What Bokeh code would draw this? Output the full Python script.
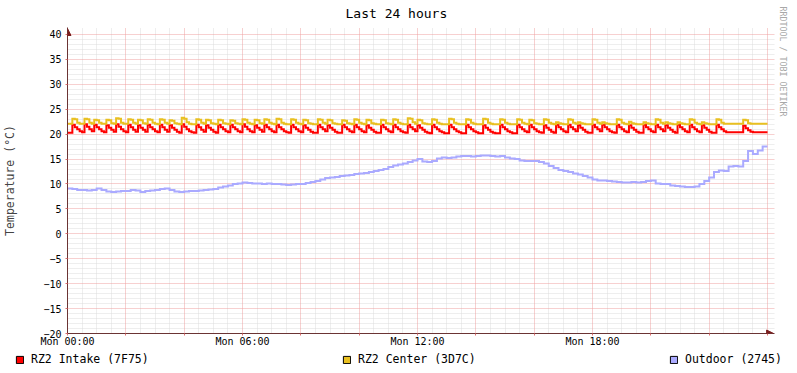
from bokeh.plotting import figure
from bokeh.models import (ColumnDataSource, Grid, FixedTicker, Legend, LegendItem,
                          Arrow, NormalHead, Title)
from bokeh.embed import file_html
from bokeh.resources import INLINE

# ---------------- data ----------------
TITLE = "Last 24 hours"
Y_LABEL = "Temperature (°C)"
WATERMARK = "RRDTOOL / TOBI OETIKER"
SERIES_NAMES = ["RZ2 Intake (7F75)", "RZ2 Center (3D7C)", "Outdoor (2745)"]
SERIES_COLORS = ["#FF0000", "#E9C020", "#AAAAFF"]
X_TICKS = [0, 6, 12, 18]
X_TICK_LABELS = ["Mon 00:00", "Mon 06:00", "Mon 12:00", "Mon 18:00"]
Y_TICKS = [-20, -15, -10, -5, 0, 5, 10, 15, 20, 25, 30, 35, 40]
HOURS_SPAN = 24

FAST_STEP_MIN = 5    # sample interval of the two RZ2 sensors (minutes)
SLOW_STEP_MIN = 10   # sample interval of the outdoor sensor (minutes)

intake = [
    20.3, 20.3, 21.9, 21.4, 21.0, 20.6, 20.4, 22.0, 21.5, 21.0, 20.6, 21.9,
    21.4, 21.0, 20.6, 20.4, 21.8, 21.3, 20.9, 20.5, 22.0, 21.5, 21.0, 20.6,
    20.4, 21.9, 21.4, 20.9, 20.5, 21.8, 21.3, 20.9, 20.5, 21.9, 21.4, 21.0,
    20.6, 20.4, 21.9, 21.4, 20.9, 20.5, 21.8, 21.3, 20.9, 20.5, 20.3, 22.0,
    21.5, 21.0, 20.6, 20.4, 20.3, 21.9, 21.4, 20.9, 20.5, 21.8, 21.3, 20.9,
    20.5, 20.3, 21.9, 21.4, 21.0, 20.6, 20.4, 21.9, 21.4, 21.0, 20.6, 20.4,
    22.0, 21.5, 21.0, 20.6, 20.4, 21.8, 21.3, 20.9, 20.5, 21.9, 21.4, 21.0,
    20.6, 20.4, 21.9, 21.4, 21.0, 20.6, 20.4, 20.3, 21.9, 21.4, 21.0, 20.6,
    20.4, 21.8, 21.3, 20.9, 20.5, 20.3, 20.3, 21.9, 21.4, 21.0, 20.6, 21.8,
    21.3, 20.9, 20.5, 20.3, 20.3, 21.9, 21.4, 21.0, 20.6, 20.4, 21.9, 21.4,
    21.0, 20.6, 20.4, 21.8, 21.3, 20.9, 20.5, 20.3, 20.3, 21.9, 21.4, 21.0,
    20.6, 20.4, 21.9, 21.4, 21.0, 20.6, 20.4, 20.3, 21.9, 21.4, 21.0, 20.6,
    21.8, 21.3, 20.9, 20.5, 20.3, 20.2, 21.9, 21.4, 21.0, 20.6, 20.4, 20.2,
    20.2, 21.9, 21.4, 21.0, 20.6, 20.4, 20.2, 20.2, 21.9, 21.4, 21.0, 20.6,
    20.4, 20.2, 20.2, 21.8, 21.3, 20.9, 20.5, 20.3, 20.2, 20.2, 21.9, 21.4,
    21.0, 20.6, 20.4, 20.2, 20.2, 21.9, 21.4, 21.0, 20.6, 20.4, 21.9, 21.4,
    21.0, 20.6, 20.4, 20.3, 21.8, 21.3, 20.9, 20.5, 20.3, 21.9, 21.4, 21.0,
    20.6, 20.4, 21.9, 21.4, 21.0, 20.6, 21.8, 21.3, 20.9, 20.5, 20.3, 20.3,
    21.9, 21.4, 21.0, 20.6, 21.9, 21.4, 21.0, 20.6, 20.4, 20.3, 21.9, 21.4,
    21.0, 20.6, 20.4, 21.8, 21.3, 20.9, 20.5, 20.3, 20.3, 21.9, 21.4, 21.0,
    20.6, 20.4, 21.9, 21.4, 21.0, 20.6, 21.8, 21.3, 20.9, 20.5, 20.3, 21.9,
    21.4, 21.0, 20.6, 20.4, 21.9, 21.4, 21.0, 20.6, 20.4, 21.8, 21.3, 20.9,
    20.5, 20.3, 20.3, 21.9, 21.4, 21.0, 20.6, 20.4, 20.4, 20.4, 20.4, 20.4,
    20.4, 20.4, 21.7, 21.2, 20.8, 20.5, 20.4, 20.4, 20.4, 20.4, 20.4, 20.4,
]

center = [
    22.1, 22.1, 23.1, 23.0, 22.3, 22.1, 22.1, 23.1, 23.0, 22.3, 22.1, 22.9,
    22.8, 22.3, 22.1, 22.1, 22.9, 22.8, 22.2, 22.1, 23.2, 23.1, 22.3, 22.1,
    22.1, 23.0, 22.9, 22.3, 22.1, 22.9, 22.8, 22.2, 22.1, 23.0, 22.9, 22.3,
    22.1, 22.0, 23.0, 22.9, 22.3, 22.1, 22.8, 22.7, 22.2, 22.1, 22.0, 23.3,
    23.1, 22.4, 22.1, 22.0, 22.0, 23.0, 22.9, 22.3, 22.1, 22.9, 22.8, 22.2,
    22.1, 22.0, 22.9, 22.8, 22.2, 22.1, 22.0, 22.8, 22.7, 22.2, 22.1, 22.0,
    23.0, 22.9, 22.3, 22.1, 22.0, 22.9, 22.8, 22.2, 22.1, 23.0, 22.9, 22.3,
    22.1, 22.0, 23.1, 23.0, 22.3, 22.1, 22.0, 22.0, 23.0, 22.9, 22.3, 22.1,
    22.0, 22.9, 22.8, 22.2, 22.1, 22.0, 22.0, 23.0, 22.9, 22.3, 22.1, 22.9,
    22.8, 22.2, 22.1, 22.0, 22.0, 22.8, 22.7, 22.2, 22.1, 22.0, 23.0, 22.9,
    22.3, 22.1, 22.0, 22.9, 22.8, 22.2, 22.1, 22.0, 22.0, 22.9, 22.8, 22.2,
    22.1, 22.0, 23.0, 22.9, 22.3, 22.1, 22.0, 22.0, 23.2, 23.1, 22.4, 22.1,
    22.9, 22.8, 22.2, 22.1, 22.0, 22.0, 23.0, 22.9, 22.3, 22.1, 22.0, 22.0,
    22.0, 23.1, 23.0, 22.3, 22.1, 22.0, 22.0, 22.0, 23.0, 22.9, 22.3, 22.1,
    22.0, 22.0, 22.0, 23.1, 23.0, 22.3, 22.1, 22.0, 22.0, 22.0, 23.0, 22.9,
    22.3, 22.1, 22.0, 22.0, 22.0, 23.0, 22.9, 22.3, 22.1, 22.0, 22.9, 22.8,
    22.2, 22.1, 22.0, 22.0, 23.0, 22.9, 22.3, 22.1, 22.0, 22.4, 22.2, 22.1,
    22.0, 22.0, 23.0, 22.9, 22.3, 22.1, 22.4, 22.2, 22.1, 22.0, 22.0, 22.0,
    23.0, 22.9, 22.3, 22.1, 22.4, 22.2, 22.1, 22.0, 22.0, 22.0, 23.0, 22.9,
    22.3, 22.1, 22.0, 22.5, 22.2, 22.1, 22.0, 22.0, 22.0, 22.4, 22.2, 22.1,
    22.0, 22.0, 23.0, 22.9, 22.3, 22.1, 22.4, 22.2, 22.1, 22.0, 22.0, 22.4,
    22.2, 22.1, 22.0, 22.0, 23.0, 22.9, 22.3, 22.1, 22.0, 22.4, 22.2, 22.1,
    22.0, 22.0, 22.0, 23.0, 22.9, 22.3, 22.1, 22.1, 22.1, 22.1, 22.1, 22.1,
    22.1, 22.1, 22.9, 22.8, 22.2, 22.1, 22.1, 22.1, 22.1, 22.1, 22.1, 22.1,
]

outdoor = [
    9.1, 9.0, 8.8, 8.8, 8.7, 8.8, 9.1, 8.8, 8.5, 8.4, 8.5, 8.6,
    8.6, 8.8, 8.7, 8.4, 8.6, 8.7, 8.8, 9.0, 9.1, 8.8, 8.5, 8.4,
    8.5, 8.6, 8.6, 8.7, 8.8, 8.9, 9.0, 9.3, 9.5, 9.7, 10.0, 10.1,
    10.3, 10.2, 10.1, 10.1, 10.0, 10.1, 10.0, 10.0, 9.9, 9.8, 9.9, 10.0,
    10.0, 10.2, 10.4, 10.6, 10.9, 11.2, 11.3, 11.4, 11.6, 11.7, 11.8, 12.0,
    12.1, 12.2, 12.4, 12.6, 12.8, 13.0, 13.4, 13.7, 13.9, 14.1, 14.4, 14.7,
    15.0, 14.5, 14.4, 14.6, 15.1, 15.3, 15.2, 15.3, 15.5, 15.6, 15.6, 15.5,
    15.6, 15.7, 15.7, 15.6, 15.5, 15.6, 15.3, 15.1, 15.0, 14.7, 14.6, 14.6,
    14.6, 14.4, 14.1, 13.6, 13.2, 12.8, 12.6, 12.4, 12.1, 11.9, 11.6, 11.3,
    10.9, 10.7, 10.7, 10.6, 10.5, 10.4, 10.3, 10.3, 10.4, 10.3, 10.4, 10.6,
    10.7, 10.1, 10.0, 10.0, 9.7, 9.6, 9.5, 9.4, 9.4, 9.5, 10.0, 10.6,
    11.3, 12.4, 12.7, 12.6, 13.5, 13.6, 13.5, 14.6, 16.6, 16.0, 16.7, 17.5,
]

# ---------------- figure ----------------
FONT = "DejaVu Sans Mono"
AXIS_COLOR = "#6B3434"
ARROW_COLOR = "#7A1E1E"
MINOR_GRID = "#DCDCDC"
MAJOR_GRID = "#EFA0A0"
TICK_RED = "#E07070"
WIDTH = 797
MAIN_H = 350
LEGEND_H = 23

# small headroom beyond the last grid line for the axis arrows
X_ARROW = HOURS_SPAN + 0.24
Y_ARROW = Y_TICKS[-1] + 1.4

p = figure(width=WIDTH, height=MAIN_H, output_backend="svg", toolbar_location=None,
           x_range=(0, X_ARROW), y_range=(Y_TICKS[0], Y_ARROW),
           min_border_left=67, min_border_right=23, min_border_top=26,
           min_border_bottom=17)
p.outline_line_color = None
p.background_fill_color = "white"
p.border_fill_color = "white"
p.xgrid.visible = False
p.ygrid.visible = False


def step_source(values, step_min):
    n = len(values)
    t = [i * step_min / 60.0 for i in range(n)] + [n * step_min / 60.0]
    return ColumnDataSource(data=dict(t=t, v=list(values) + [values[-1]]))


# grids: minor (30 min / 1 degree) and major (2 h / 5 degrees), dotted
x_minor = [i * 0.5 for i in range(1, 2 * HOURS_SPAN + 1) if i % 4 != 0]
x_major = list(range(0, HOURS_SPAN + 1, 2))
y_minor = [v for v in range(Y_TICKS[0], Y_TICKS[-1] + 1) if v % 5 != 0]
p.add_layout(Grid(dimension=0, ticker=FixedTicker(ticks=x_minor),
                  grid_line_color=MINOR_GRID, grid_line_dash="1 1"))
p.add_layout(Grid(dimension=1, ticker=FixedTicker(ticks=y_minor),
                  grid_line_color=MINOR_GRID, grid_line_dash="1 1"))
p.add_layout(Grid(dimension=0, ticker=FixedTicker(ticks=x_major[1:]),
                  grid_line_color=MAJOR_GRID, grid_line_dash="1 1"))
p.add_layout(Grid(dimension=1, ticker=FixedTicker(ticks=Y_TICKS[1:]),
                  grid_line_color=MAJOR_GRID, grid_line_dash="1 1"))

# series
for vals, step_min, color in [(intake, FAST_STEP_MIN, SERIES_COLORS[0]),
                              (center, FAST_STEP_MIN, SERIES_COLORS[1]),
                              (outdoor, SLOW_STEP_MIN, SERIES_COLORS[2])]:
    p.step(x="t", y="v", source=step_source(vals, step_min), mode="after",
           line_color=color, line_width=2, line_join="miter")

# axes
overrides = {t: "" for t in x_major}
for t, lab in zip(X_TICKS, X_TICK_LABELS):
    overrides[t] = lab
xa = p.xaxis[0]
xa.ticker = FixedTicker(ticks=x_major)
xa.major_label_overrides = overrides
xa.major_label_text_font = FONT
xa.major_label_text_font_size = "10px"
xa.major_label_text_color = "black"
xa.major_label_standoff = 0
xa.major_tick_in = 0
xa.major_tick_out = 2
xa.major_tick_line_color = TICK_RED
xa.minor_tick_line_color = None
xa.axis_line_color = AXIS_COLOR

ya = p.yaxis[0]
ya.ticker = FixedTicker(ticks=Y_TICKS)
ya.major_label_text_font = FONT
ya.major_label_text_font_size = "10px"
ya.major_label_text_color = "black"
ya.major_label_standoff = 4
ya.major_tick_in = 0
ya.major_tick_out = 2
ya.major_tick_line_color = TICK_RED
ya.minor_tick_line_color = None
ya.axis_line_color = AXIS_COLOR
ya.axis_label = Y_LABEL
ya.axis_label_text_font = FONT
ya.axis_label_text_font_size = "11.5px"
ya.axis_label_text_font_style = "normal"
ya.axis_label_standoff = 23

# arrow heads at the axis ends
p.add_layout(Arrow(end=NormalHead(size=7, fill_color=ARROW_COLOR, line_color=ARROW_COLOR),
                   x_start=0, y_start=Y_TICKS[-1], x_end=0, y_end=Y_ARROW - 0.2,
                   line_color=AXIS_COLOR, line_width=1))
p.add_layout(Arrow(end=NormalHead(size=7, fill_color=ARROW_COLOR, line_color=ARROW_COLOR),
                   x_start=HOURS_SPAN, y_start=Y_TICKS[0], x_end=X_ARROW - 0.03,
                   y_end=Y_TICKS[0], line_color=AXIS_COLOR, line_width=1))

# title (centred on the image, as rrdtool does) and vertical watermark
p.title.text = TITLE
p.title.align = "left"
p.title.offset = 278
p.title.text_font = FONT
p.title.text_font_size = "13px"
p.title.text_font_style = "normal"
p.title.text_color = "black"
p.title.vertical_align = "top"
p.title.standoff = 10

wm = Title(text=WATERMARK, align="left", offset=-21, text_font=FONT,
           text_font_size="8.3px", text_font_style="normal", text_color="#A8A8A8",
           standoff=6)
p.add_layout(wm, "right")

# legend strip (its own small root under the chart), square swatches
lg = figure(width=WIDTH, height=LEGEND_H, output_backend="svg", toolbar_location=None,
            x_range=(0, 1), y_range=(0, 1), x_axis_location=None, y_axis_location=None,
            min_border=0, min_border_left=0, min_border_right=0,
            min_border_top=0, min_border_bottom=0)
lg.outline_line_color = None
lg.grid.visible = False
lg.background_fill_color = "white"
lg.border_fill_color = "white"

nan = float("nan")
items = []
for name, color in zip(SERIES_NAMES, SERIES_COLORS):
    # placeholder row (NaN, never drawn) so the legend has a swatch to render
    src = ColumnDataSource(data=dict(left=[nan], right=[nan], top=[nan], bottom=[nan]))
    r = lg.quad(left="left", right="right", top="top", bottom="bottom", source=src,
                fill_color=color, line_color="black", line_width=1)
    items.append(LegendItem(label=name, renderers=[r]))
legend = Legend(items=items, orientation="horizontal", location=(15, 7),
                glyph_width=9, glyph_height=9, label_standoff=7, label_width=311,
                spacing=0, padding=0, margin=0, border_line_color=None,
                background_fill_alpha=0, label_text_font=FONT,
                label_text_font_size="11.5px", label_text_color="black",
                label_height=14)
lg.add_layout(legend)

open("out.html", "w").write(file_html([p, lg], INLINE))
